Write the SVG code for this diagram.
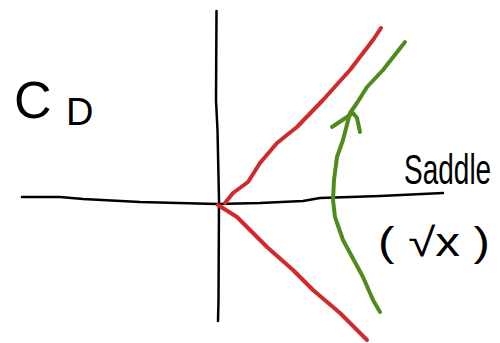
<svg xmlns="http://www.w3.org/2000/svg" width="500" height="343" viewBox="0 0 500 343">
<style>
.ax{fill:none;stroke:#000;stroke-width:2.5;stroke-linecap:round;stroke-linejoin:round}
.red{fill:none;stroke:#d12a2a;stroke-width:4;stroke-linecap:round;stroke-linejoin:round}
.grn{fill:none;stroke:#4e8c1c;stroke-width:4;stroke-linecap:round;stroke-linejoin:round}
.lbl{font-family:"Liberation Sans",Arial,sans-serif;fill:#000}
</style>
<rect width="500" height="343" fill="#fff"/>
<g id="axes">
<path class="ax" d="M216.5,11 L216,100 L217.5,130 L219,200 L218.5,300 L218,321"/>
<path class="ax" d="M22,197 L60,197 L83,199 L140,202 L217,204 L260,203 L303,201 L320,198 L380,196 L443,193"/>
</g>
<g id="curves">
<path class="red" d="M225,203 L233,193 L248,182 L260,163 L277,143 L297,127 L323,100 L350,70 L373,40 L381,28"/>
<path class="red" d="M218,205 L237,217 L267,247 L293,270 L313,290 L340,313 L367,340"/>
<path class="grn" d="M380,312 L373,300 L363,277 L350,253 L343,240 L335,217 L333,200 L334,180 L337,157 L343,140 L350,113 L357,103 L367,87 L383,70 L405,42"/>
<path class="grn" d="M332,127 L353,113 L357,118 L360,132"/>
</g>
<g id="labels">
<text class="lbl" x="14" y="118" font-size="52">C</text>
<text class="lbl" x="66" y="125" font-size="38">D</text>
<text class="lbl" transform="translate(404,184) scale(1,1.5)" x="0" y="0" font-size="28">Saddle</text>
<text class="lbl" x="378" y="256" font-size="40" textLength="112" lengthAdjust="spacingAndGlyphs">( √x )</text>
</g>
</svg>
